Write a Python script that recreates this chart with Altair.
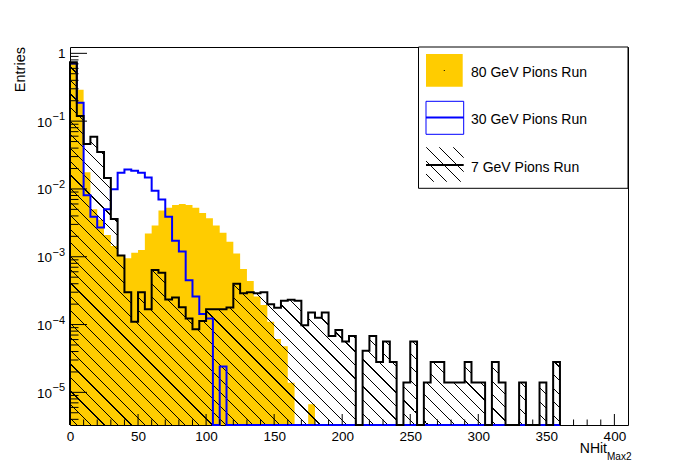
import math
import altair as alt
import pandas as pd

# ---------------- data (bin width 5, 72 bins from 0 to 360) ----------------
BIN_WIDTH = 5
pion80 = [0.70, 0.29, 0.0177, 0.0050, 0.0035, 0.0021, 0.00144, 0.00106, 0.00095, 0.00115,
          0.00126, 0.0022, 0.0029, 0.0048, 0.0053, 0.0058, 0.0060, 0.0058, 0.0053, 0.0044,
          0.0037, 0.0029, 0.00226, 0.00166, 0.00112, 0.00066, 0.00044, 0.00026, 0.000194, 0.00011,
          6.1e-5, 4.8e-5, 1.39e-5, 0, 0, 6.7e-6] + [0] * 36
pion30 = [0.71, 0.187, 0.0081, 0.0039, 0.0027, 0.0050, 0.0099, 0.0173, 0.0194, 0.0186,
          0.0173, 0.0148, 0.0094, 0.0070, 0.0039, 0.00172, 0.00119, 0.00045, 0.00026, 0.000143,
          0.000123, 0, 2.4e-5] + [0] * 49
pion7 = [0.74, 0.119, 0.046, 0.059, 0.035, 0.0145, 0.0036, 0.00104, 0.0003, 0.00011,
         0.0003, 0.000168, 0.00064, 0.00058, 0.000235, 0.00025, 0.00018, 0.000123, 8.5e-5, 0.000113,
         0.000168, 0.000168, 0.000168, 0.000179, 0.0004, 0.00029, 0.0003, 0.00029, 0.0003, 0.0002,
         0.000177, 0.000225, 0.000232, 0.000225, 9.8e-5, 0.000151, 0.000126, 0.000151, 6.8e-5, 8.3e-5,
         5.6e-5, 6.8e-5, 0, 4.1e-5, 6.8e-5, 2.8e-5, 5.6e-5, 2.8e-5, 0, 1.4e-5,
         5.6e-5, 0, 1.4e-5, 2.8e-5, 2.8e-5, 1.4e-5, 1.4e-5, 1.4e-5, 2.8e-5, 1.4e-5,
         1.4e-5, 0, 2.8e-5, 1.4e-5, 0, 0, 1.4e-5, 0, 0, 1.4e-5,
         0, 2.8e-5]
legend_labels = ["80 GeV Pions Run", "30 GeV Pions Run", "7 GeV Pions Run"]
x_tick_labels = [0, 50, 100, 150, 200, 250, 300, 350, 400]
y_decades = [1e-1, 1e-2, 1e-3, 1e-4, 1e-5]
y_exponents = ["\u22121", "\u22122", "\u22123", "\u22124", "\u22125"]

# ---------------- geometry / style ----------------
X_MAX = 410
Y_MIN, Y_MAX = 3.3e-6, 1.24
W, H = 558, 378
TINY = 1e-12
FONT = "Liberation Sans"
YELLOW = "#ffcc00"
BLUE = "#0000ff"
CLEAR = "rgba(0,0,0,0)"

xs = alt.Scale(domain=[0, X_MAX], nice=False, zero=False)
ys = alt.Scale(type="log", domain=[Y_MIN, Y_MAX], nice=False, clamp=True)
x_axis = alt.Axis(values=x_tick_labels, ticks=False, domain=False, grid=False, title=None,
                  labelFont=FONT, labelFontSize=13.5, labelColor="black", labelPadding=4,
                  labelFlush=False, labelOverlap=False)


def X(field):
    return alt.X(field, type="quantitative", scale=xs, axis=x_axis)


def Y(field):
    return alt.Y(field, type="quantitative", scale=ys, axis=None)


def py(v):
    lo, hi = math.log10(Y_MIN), math.log10(Y_MAX)
    return (hi - math.log10(max(v, Y_MIN))) / (hi - lo) * H


def px(x):
    return x / X_MAX * W


def hatch(wb, hb, period=13.5, lw=1.25):
    tot = wb + hb
    s = tot / (wb * wb + hb * hb)
    stops = [alt.GradientStop(color=CLEAR, offset=0)]
    f = -hb + period / 2
    while f + lw < wb:
        a = round((f + hb) / tot, 6)
        b = round((f + lw + hb) / tot, 6)
        stops += [alt.GradientStop(color=CLEAR, offset=a),
                  alt.GradientStop(color="black", offset=a),
                  alt.GradientStop(color="black", offset=b),
                  alt.GradientStop(color=CLEAR, offset=b)]
        f += period
    stops.append(alt.GradientStop(color=CLEAR, offset=1))
    return alt.LinearGradient(gradient="linear", stops=stops,
                              x1=0, y1=1, x2=s * wb, y2=1 - s * hb)


def area_df(vals):
    n = len(vals)
    rows = [dict(x=i * BIN_WIDTH, y=(v if v > 0 else TINY)) for i, v in enumerate(vals)]
    rows.append(dict(x=n * BIN_WIDTH, y=(vals[-1] if vals[-1] > 0 else TINY)))
    return pd.DataFrame(rows)


def line_df(vals):
    n = len(vals)
    rows = [dict(x=0, y=TINY, o=0)]
    rows += [dict(x=i * BIN_WIDTH, y=(v if v > 0 else TINY), o=i + 1) for i, v in enumerate(vals)]
    rows.append(dict(x=n * BIN_WIDTH, y=(vals[-1] if vals[-1] > 0 else TINY), o=n + 1))
    rows.append(dict(x=n * BIN_WIDTH, y=TINY, o=n + 2))
    return pd.DataFrame(rows)


yellow = alt.Chart(area_df(pion80)).mark_area(interpolate="step-after", color=YELLOW).encode(
    x=X("x"), y=Y("y"), y2=alt.value(H))

wb7 = px(len(pion7) * BIN_WIDTH)
hb7 = H - py(max(pion7))
hatch7 = alt.Chart(area_df(pion7)).mark_area(interpolate="step-after", fill=hatch(wb7, hb7)).encode(
    x=X("x"), y=Y("y"), y2=alt.value(H))

blue = alt.Chart(line_df(pion30)).mark_line(interpolate="step-after", color=BLUE, strokeWidth=2,
                                              strokeCap="butt").encode(
    x=X("x"), y=Y("y"), order="o:Q")

black = alt.Chart(line_df(pion7)).mark_line(interpolate="step-after", color="black", strokeWidth=2,
                                              strokeCap="butt").encode(
    x=X("x"), y=Y("y"), order="o:Q")

# ticks (ROOT style, pointing inside the frame)
xt_major = pd.DataFrame({"x": [v for v in range(50, X_MAX, 50)]})
xt_minor = pd.DataFrame({"x": [v for v in range(10, X_MAX, 10) if v % 50 != 0]})
yt_major = pd.DataFrame({"y": [1] + y_decades})
yt_minor = pd.DataFrame({"y": [m * 10 ** k for k in range(-6, 1) for m in range(2, 10)
                               if Y_MIN <= m * 10 ** k <= Y_MAX]})

ticks = [
    alt.Chart(xt_major).mark_rule(color="black", strokeWidth=1).encode(
        x=X("x"), y=alt.value(H), y2=alt.value(H - 11)),
    alt.Chart(xt_minor).mark_rule(color="black", strokeWidth=1).encode(
        x=X("x"), y=alt.value(H), y2=alt.value(H - 5.5)),
    alt.Chart(yt_major).mark_rule(color="black", strokeWidth=1).encode(
        y=Y("y"), x=alt.value(0), x2=alt.value(17)),
    alt.Chart(yt_minor).mark_rule(color="black", strokeWidth=1).encode(
        y=Y("y"), x=alt.value(0), x2=alt.value(8.5)),
]

label_one = alt.Chart(pd.DataFrame({"y": [1]})).mark_text(
    text="1", font=FONT, fontSize=13.5, align="right", baseline="alphabetic", dy=5,
    color="black").encode(y=Y("y"), x=alt.value(-4.5))
label_ten = alt.Chart(pd.DataFrame({"y": y_decades})).mark_text(
    text="10", font=FONT, fontSize=13.5, align="right", baseline="alphabetic", dy=5.5,
    color="black").encode(y=Y("y"), x=alt.value(-18))
label_exp = alt.Chart(pd.DataFrame({"y": y_decades, "t": y_exponents})).mark_text(
    font=FONT, fontSize=11, align="left", baseline="alphabetic", dy=-1,
    color="black").encode(y=Y("y"), x=alt.value(-17.5), text="t:N")

entries = alt.Chart().mark_text(text="Entries", font=FONT, fontSize=14.5, angle=270, align="right",
                                baseline="alphabetic", color="black").encode(
    x=alt.value(-45), y=alt.value(0))
xtitle = alt.Chart().mark_text(text="NHit", font=FONT, fontSize=14, align="right",
                               baseline="alphabetic", color="black").encode(
    x=alt.value(537), y=alt.value(405.5))
xsub = alt.Chart().mark_text(text="Max2", font=FONT, fontSize=10, align="left",
                             baseline="alphabetic", color="black").encode(
    x=alt.value(537), y=alt.value(413))

# legend
leg_box = alt.Chart().mark_rect(fill="white", stroke="black", strokeWidth=1).encode(
    x=alt.value(348.5), x2=alt.value(558), y=alt.value(0), y2=alt.value(141.3))
leg_yellow = alt.Chart().mark_rect(fill=YELLOW).encode(
    x=alt.value(356), x2=alt.value(392.7), y=alt.value(7), y2=alt.value(39.7))
leg_dot = alt.Chart().mark_square(size=1, color="black", opacity=1).encode(
    x=alt.value(374.3), y=alt.value(23.5))
leg_blue_box = alt.Chart().mark_rect(fill=CLEAR, stroke=BLUE, strokeWidth=1).encode(
    x=alt.value(356), x2=alt.value(393.7), y=alt.value(54.3), y2=alt.value(87.3))
leg_blue_line = alt.Chart().mark_rule(color=BLUE, strokeWidth=2).encode(
    x=alt.value(356), x2=alt.value(393.7), y=alt.value(70.5))
leg_hatch = alt.Chart().mark_rect(fill=hatch(37.7, 34.4)).encode(
    x=alt.value(356), x2=alt.value(393.7), y=alt.value(100.3), y2=alt.value(134.7))
leg_black_line = alt.Chart().mark_rule(color="black", strokeWidth=2).encode(
    x=alt.value(356), x2=alt.value(393.7), y=alt.value(118))
leg_texts = [
    alt.Chart().mark_text(text=lab, font=FONT, fontSize=14, align="left", baseline="alphabetic",
                          color="black").encode(x=alt.value(401), y=alt.value(yy))
    for lab, yy in zip(legend_labels, [29.7, 77, 124.7])
]

chart = alt.layer(
    yellow, hatch7, blue, black, *ticks, label_one, label_ten, label_exp, entries, xtitle, xsub,
    leg_box, leg_yellow, leg_dot, leg_blue_box, leg_blue_line, leg_hatch, leg_black_line, *leg_texts,
).properties(
    width=W, height=H, autosize=alt.AutoSizeParams(type="none"),
    padding={"left": 62, "top": 39, "right": 50, "bottom": 38},
    background="white",
).configure_view(stroke="black", strokeWidth=1)

chart.save("out.html", embed_options={"renderer": "svg", "actions": False})
